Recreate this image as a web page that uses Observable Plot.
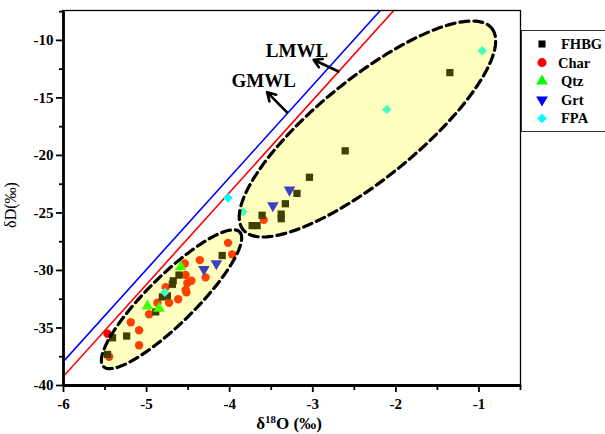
<!DOCTYPE html>
<html><head><meta charset="utf-8">
<script src="https://cdn.jsdelivr.net/npm/d3@7"></script>
<script src="https://cdn.jsdelivr.net/npm/@observablehq/plot@0.6"></script>
<style>
body{margin:0;background:#fff;}
#wrap{position:relative;width:605px;height:434px;overflow:hidden;}
#legend{position:absolute;left:521px;top:30px;}
</style></head><body><div id="wrap"></div>
<script>
// ---- data (δ18O, δD) ----
const seriesNames = ["FHBG", "Char", "Qtz", "Grt", "FPA"];
const seriesColors = ["#000000", "#ff0000", "#00ff00", "#0000ff", "#00ffff"];

const fhbgX = [-1.35, -2.61, -3.04, -3.19, -3.33, -3.38, -3.38, -3.61, -3.73, -3.67, -4.09, -4.61, -4.68, -4.69, -4.81, -4.75, -4.89, -5.24, -5.41, -5.47];
const fhbgY = [-12.8, -19.6, -21.9, -23.3, -24.2, -25.1, -25.5, -25.2, -26.1, -26.1, -28.7, -30.4, -30.9, -31.2, -32.3, -32.2, -33.6, -35.7, -35.85, -37.3];

const charX = [-3.59, -4.02, -3.97, -4.36, -4.29, -4.54, -4.53, -4.51, -4.46, -4.52, -4.53, -4.62, -4.77, -4.73, -4.87, -4.97, -5.19, -5.09, -5.09, -5.47, -5.45];
const charY = [-25.6, -27.6, -28.6, -29.1, -30.6, -29.4, -30.4, -31.1, -30.9, -31.9, -31.7, -32.5, -31.45, -32.8, -32.8, -33.8, -34.5, -35.2, -36.5, -35.5, -37.5];

const qtzX = [-4.59, -4.99, -4.85];
const qtzY = [-29.7, -33.1, -33.3];

const grtX = [-3.28, -3.48, -4.16, -4.31];
const grtY = [-23.0, -24.35, -29.4, -29.9];

const fpaX = [-0.96, -2.11, -3.84, -4.02, -4.78];
const fpaY = [-10.9, -16.0, -24.9, -23.7, -31.9];

// meteoric water lines (end points)
const gmwlX = [-6, -2.1];
const gmwlY = [-37.9, -6.7];
const lmwlX = [-6, -1.9];
const lmwlY = [-39.2, -6.4];

// ellipses: centre, semi-major vector, semi-minor vector (data units)
const ellipseCx = [-4.70, -2.342];
const ellipseCy = [-32.5, -17.70];
const ellipseAx = [0.82, 1.496];
const ellipseAy = [5.85, 8.76];
const ellipseBx = [0.202, 0.379];
const ellipseBy = [-1.49, -3.38];

// annotations
const annoText = ["LMWL", "GMWL"];
const annoX = [-3.19, -3.59];
const annoY = [-10.87, -13.5];
const arrowX1 = [-2.69, -3.31];
const arrowY1 = [-12.7, -16.26];
const arrowX2 = [-2.99, -3.55];
const arrowY2 = [-11.68, -14.5];

const xTicks = [-6, -5, -4, -3, -2, -1];
const xMinor = [-5.5, -4.5, -3.5, -2.5, -1.5, -0.5];
const yTicks = [-40, -35, -30, -25, -20, -15, -10];
const yMinor = [-37.5, -32.5, -27.5, -22.5, -17.5, -12.5, -7.5];

// ---- build tables ----
const pts = (xs, ys) => xs.map((x, i) => ({x, y: ys[i]}));
const ellipsePts = [];
ellipseCx.forEach((cx, k) => {
  for (let i = 0; i <= 120; i++) {
    const t = (i / 120) * 2 * Math.PI;
    ellipsePts.push({
      id: k,
      x: cx + ellipseAx[k] * Math.cos(t) + ellipseBx[k] * Math.sin(t),
      y: ellipseCy[k] + ellipseAy[k] * Math.cos(t) + ellipseBy[k] * Math.sin(t)
    });
  }
});
const annos = annoText.map((t, i) => ({t, x: annoX[i], y: annoY[i]}));
const arrows = arrowX1.map((x1, i) => ({x1, y1: arrowY1[i], x2: arrowX2[i], y2: arrowY2[i]}));

const font = "'Liberation Serif', 'Times New Roman', serif";

const chart = Plot.plot({
  width: 605, height: 434,
  marginLeft: 63, marginRight: 85, marginTop: 10, marginBottom: 49,
  x: {domain: [-6, -0.5]},
  y: {domain: [-40, -7.4]},
  style: {fontFamily: font, fontSize: "15px", fontWeight: "bold", color: "#000", background: "white"},
  marks: [
    Plot.line(pts(gmwlX, gmwlY), {x: "x", y: "y", stroke: "#0000ff", strokeWidth: 1.6, clip: true}),
    Plot.line(pts(lmwlX, lmwlY), {x: "x", y: "y", stroke: "#ff0000", strokeWidth: 1.6, clip: true}),
    Plot.dot(pts(charX, charY), {x: "x", y: "y", symbol: "circle", r: 4.2, fill: seriesColors[1]}),
    Plot.dot(pts(fhbgX, fhbgY), {x: "x", y: "y", symbol: "square", r: 4.1, fill: seriesColors[0]}),
    Plot.dot(pts(qtzX, qtzY), {x: "x", y: "y", symbol: "triangle", r: 4.3, fill: seriesColors[2]}),
    Plot.dot(pts(grtX, grtY), {x: "x", y: "y", symbol: "triangle", rotate: 180, r: 4.3, fill: seriesColors[3]}),
    Plot.dot(pts(fpaX, fpaY), {x: "x", y: "y", symbol: "diamond2", r: 4.2, fill: seriesColors[4]}),
    Plot.line(ellipsePts, {x: "x", y: "y", z: "id", fill: "#ffff00", fillOpacity: 0.25, stroke: "#000", strokeWidth: 3.2, strokeDasharray: "9,5", curve: "linear"}),
    Plot.arrow(arrows, {x1: "x1", y1: "y1", x2: "x2", y2: "y2", stroke: "#000", strokeWidth: 2.6, headLength: 11}),
    Plot.text(annos, {x: "x", y: "y", text: "t", fontSize: 19, fontWeight: "bold", fill: "#000"}),
    Plot.frame({stroke: "#000", strokeWidth: 1.3}),
    Plot.axisX({ticks: xMinor, tickSize: 5, strokeWidth: 1.8, tickFormat: () => "", label: null}),
    Plot.axisX({ticks: xTicks, tickSize: 7, strokeWidth: 1.8, tickPadding: 6, tickFormat: d => String(d), label: null}),
    Plot.axisY({ticks: yMinor, tickSize: 4, strokeWidth: 1.8, tickFormat: () => "", label: null}),
    Plot.axisY({ticks: yTicks, tickSize: 7, strokeWidth: 1.8, tickPadding: 3, tickFormat: d => String(d), label: null}),
    Plot.ruleX([-6], {stroke: "#000", strokeWidth: 2.8}),
    Plot.ruleY([-40], {stroke: "#000", strokeWidth: 2.8})
  ]
});

const wrap = document.getElementById("wrap");
wrap.appendChild(chart);

// axis titles
const svg = d3.select(chart);
const xt = svg.append("text")
  .attr("x", 289).attr("y", 429)
  .attr("text-anchor", "middle")
  .style("font-family", font).style("font-size", "17px").style("font-weight", "bold");
xt.append("tspan").text("δ");
xt.append("tspan").attr("dy", -6).style("font-size", "11px").text("18");
xt.append("tspan").attr("dy", 6).text("O (‰)");

svg.append("text")
  .attr("transform", "translate(16,205) rotate(-90)")
  .attr("text-anchor", "middle")
  .style("font-family", font).style("font-size", "16px").style("font-weight", "normal")
  .text("δD(‰)");

// legend
const lg = d3.select(wrap).append("svg").attr("id", "legend")
  .attr("width", 84).attr("height", 102);
lg.append("rect").attr("x", 0.5).attr("y", 0.5).attr("width", 90).attr("height", 101)
  .attr("fill", "#fff").attr("stroke", "#333").attr("stroke-width", 1);
const syms = [d3.symbolSquare, d3.symbolCircle, d3.symbolTriangle, d3.symbolTriangle, d3.symbolDiamond2];
const areas = [50, 64, 60, 60, 60];
seriesNames.forEach((name, i) => {
  const cy = 14 + i * 18.6;
  lg.append("path")
    .attr("d", d3.symbol(syms[i], areas[i])())
    .attr("transform", `translate(21,${cy}) rotate(${i === 3 ? 180 : 0})`)
    .attr("fill", seriesColors[i]);
  lg.append("text").attr("x", i === 1 ? 37 : 40).attr("y", cy + 5)
    .style("font-family", font).style("font-size", "14.5px").style("font-weight", "bold")
    .text(name);
});
</script></body></html>
